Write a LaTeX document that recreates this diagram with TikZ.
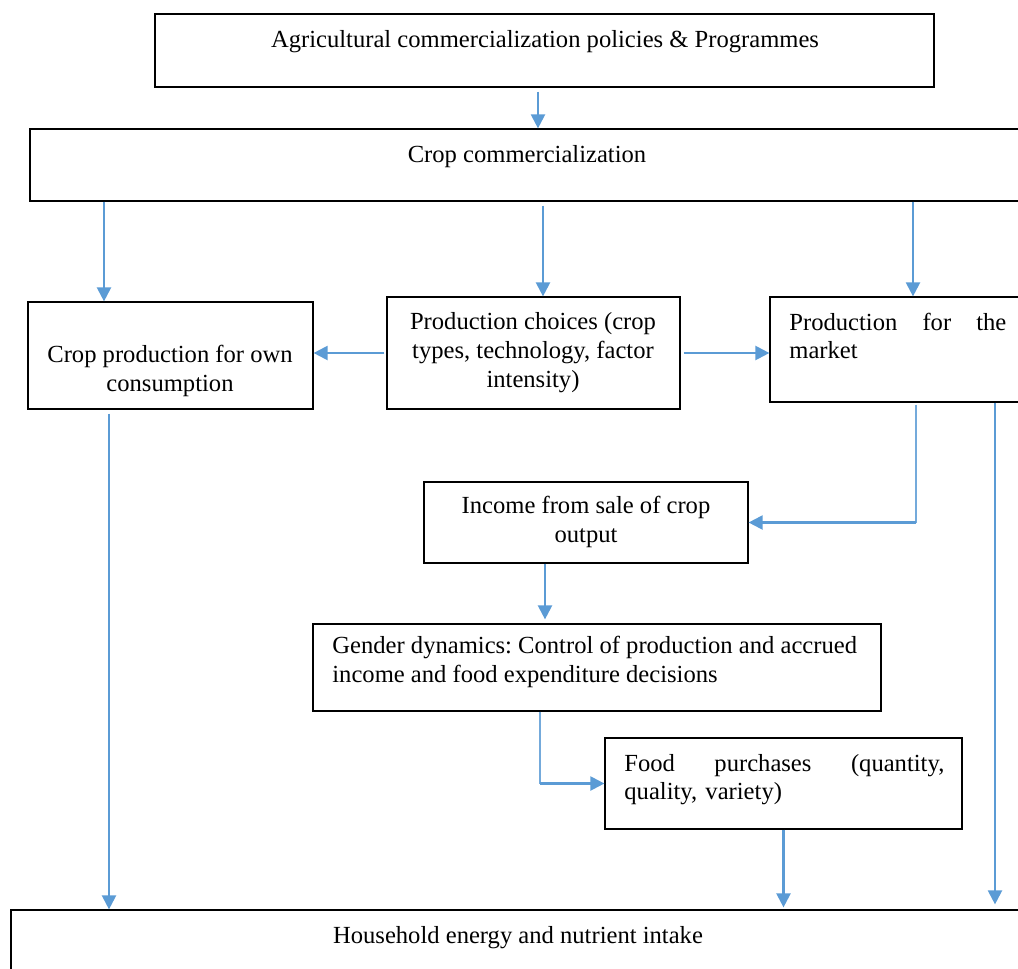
\documentclass[tikz,border=0pt]{standalone}
\usepackage{fontspec}
\setmainfont{Liberation Serif}
\usepackage{xcolor}
\usepackage{tikz}
\usetikzlibrary{arrows.meta,positioning}
\definecolor{LinkBlue}{HTML}{5B9BD5}
\tikzset{
  box/.style={draw=black,line width=0.6pt,inner sep=0pt},
  txt/.style={inner sep=0pt,font={\fontsize{12.3}{14.3}\selectfont\frenchspacing}},
  flow/.style={-{Triangle[length=7pt,width=7pt]},line width=1.1pt,draw=LinkBlue},
  link/.style={line width=0.6pt,draw=LinkBlue!85}
}
\begin{document}
\begin{tikzpicture}[x=0.5pt,y=-0.5pt]
  \useasboundingbox (0,0) rectangle (1018,969);
  \clip (0,0) rectangle (1018,969);
  % boxes
  \node[box,minimum width=389.5pt,minimum height=36.5pt] (policy) at (544.5,50.5) {};
  \node[box,minimum width=497pt,minimum height=36pt] (commerc) at (527,165) {};
  \node[box,minimum width=142.5pt,minimum height=53.5pt] (ownprod) at (170.5,355.5) {};
  \node[box,minimum width=146.5pt,minimum height=56pt] (choices) at (533.5,353) {};
  \node[box,minimum width=127.5pt,minimum height=52.5pt] (market) at (897.5,349.5) {};
  \node[box,minimum width=162pt,minimum height=40.5pt] (income) at (586,522.5) {};
  \node[box,minimum width=284pt,minimum height=43.5pt] (gender) at (597,667.5) {};
  \node[box,minimum width=178.5pt,minimum height=45.5pt] (food) at (783.5,783.5) {};
  \node[box,minimum width=507pt,minimum height=40pt] (house) at (518,950) {};
  % texts
  \node[txt,anchor=base] (policy-t) at (545,47) {Agricultural commercialization policies \& Programmes};
  \node[txt,anchor=base] (commerc-t) at (527,162) {Crop commercialization};
  \node[txt,anchor=base,align=center] (ownprod-t) at (170,391) {Crop production for own\\consumption};
  \node[txt,anchor=base,align=center] (choices-t) at (533,387) {Production choices (crop\\types, technology, factor\\intensity)};
  \node[txt,anchor=base west,text width=108.5pt,align=left] (market-t) at (789,330) {Production \hfill for \hfill the\\market};
  \node[txt,anchor=base,align=center] (income-t) at (586,542) {Income from sale of crop\\output};
  \node[txt,anchor=base west,align=left] (gender-t) at (332,682) {Gender dynamics: Control of production and accrued\\income and food expenditure decisions};
  \node[txt,anchor=base west,text width=160pt,align=left] (food-t) at (624,771) {Food \hfill purchases \hfill (quantity,\\quality, variety)};
  \node[txt,anchor=base] (house-t) at (518,943) {Household energy and nutrient intake};
  % connectors
  \draw[flow] ([xshift=-3.25pt,yshift=-2pt]policy.south) -- ([xshift=-3.25pt]policy.south |- commerc.north);
  \draw[flow] ([xshift=-33.25pt]ownprod.north |- commerc.south) -- ([xshift=-33.25pt]ownprod.north);
  \draw[flow] ([xshift=4.75pt,yshift=-2pt]choices.north |- commerc.south) -- ([xshift=4.75pt]choices.north);
  \draw[flow] ([xshift=7.75pt]market.north |- commerc.south) -- ([xshift=7.75pt]market.north);
  \draw[flow] ([xshift=-1pt]choices.west) -- (choices.west -| ownprod.east);
  \draw[flow] ([xshift=1.5pt]choices.east) -- (choices.east -| market.west);
  \coordinate (mkturn) at ([xshift=9.25pt]market.south |- income.east);
  \draw[link] ([xshift=9.25pt,yshift=-1pt]market.south) -- (mkturn);
  \draw[flow] (mkturn) -- (income.east);
  \draw[flow] ([xshift=48.75pt]market.south) -- ([xshift=48.75pt,yshift=2.5pt]market.south |- house.north);
  \draw[flow] ([xshift=-30.75pt,yshift=-2pt]ownprod.south) -- ([xshift=-30.75pt]ownprod.south |- house.north);
  \draw[flow] ([xshift=-20.5pt]income.south) -- ([xshift=-20.5pt,yshift=2pt]income.south |- gender.north);
  \coordinate (gdturn) at ([xshift=-28.5pt]gender.south |- food.west);
  \draw[link] ([xshift=-28.5pt]gender.south) -- (gdturn);
  \draw[flow] (gdturn) -- (food.west);
  \draw[flow] (food.south) -- ([yshift=1pt]food.south |- house.north);
\end{tikzpicture}
\end{document}
